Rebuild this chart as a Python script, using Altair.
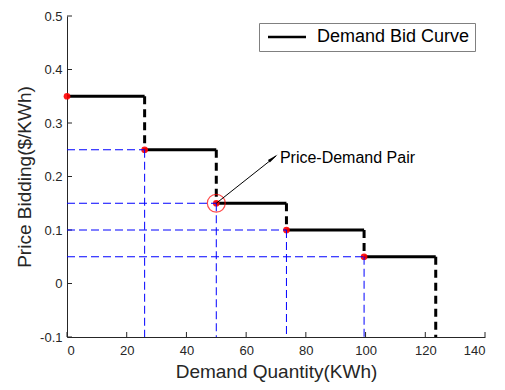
import altair as alt
import pandas as pd

qty = [0, 26, 50, 73.5, 99.5, 123.5]
price = [0.35, 0.25, 0.15, 0.10, 0.05]
y_floor = -0.1
series_name = "Demand Bid Curve"
x_ticks = [0, 20, 40, 60, 80, 100, 120, 140]
y_ticks = [-0.1, 0, 0.1, 0.2, 0.3, 0.4, 0.5]
highlight = (50, 0.15)
annot_text = "Price-Demand Pair"
annot_pos = (71.3, 0.2346)
arrow_tip = (70.0, 0.2383)
head_pos = (68.6, 0.2328)

W, H = 418, 321
FONT = "Liberation Sans"

steps = pd.DataFrame({"x": qty[:-1], "x2": qty[1:], "y": price, "series": series_name})
risers = pd.DataFrame({"x": qty[1:], "y": price, "y2": price[1:] + [y_floor]})
pts = pd.DataFrame({"x": qty[:-1], "y": price})
bh = pd.DataFrame({"x": [0] * 4, "x2": qty[1:5], "y": price[1:5]})
bv = pd.DataFrame({"x": qty[1:5], "y": price[1:5], "y2": [y_floor] * 4})
xt = pd.DataFrame({"x": x_ticks})
yt = pd.DataFrame({"y": y_ticks})
hl = pd.DataFrame({"x": [highlight[0]], "y": [highlight[1]]})
arrow = pd.DataFrame({"x": [highlight[0]], "y": [highlight[1]], "x2": [arrow_tip[0]], "y2": [arrow_tip[1]]})
tip = pd.DataFrame({"x": [head_pos[0]], "y": [head_pos[1]]})
txt = pd.DataFrame({"x": [annot_pos[0]], "y": [annot_pos[1]], "t": [annot_text]})

xs = alt.Scale(domain=[0, 140], nice=False, zero=False)
ys = alt.Scale(domain=[-0.1, 0.5], nice=False, zero=False)

X = alt.X("x:Q", scale=xs, axis=alt.Axis(values=x_ticks, title="Demand Quantity(KWh)", ticks=False,
                                         labelPadding=7, titlePadding=5, grid=False))
Y = alt.Y("y:Q", scale=ys, axis=alt.Axis(values=y_ticks, title="Price Bidding($/KWh)", ticks=False,
                                         labelPadding=5, titlePadding=5, grid=False,
                                         labelExpr="toString(round(datum.value*10)/10)"))

xticks = alt.Chart(xt).mark_rule(color="#262626", strokeWidth=1).encode(
    x=X, y=alt.value(H), y2=alt.value(H - 5))
yticks = alt.Chart(yt).mark_rule(color="#262626", strokeWidth=1).encode(
    y=Y, x=alt.value(0), x2=alt.value(5))

blue_h = alt.Chart(bh).mark_rule(color="#0000ff", strokeWidth=1, strokeDash=[8, 4]).encode(
    x=alt.X("x:Q", scale=xs), x2="x2:Q", y=alt.Y("y:Q", scale=ys))
blue_v = alt.Chart(bv).mark_rule(color="#0000ff", strokeWidth=1, strokeDash=[8, 4]).encode(
    x=alt.X("x:Q", scale=xs), y=alt.Y("y:Q", scale=ys), y2="y2:Q")

step_l = alt.Chart(steps).mark_rule(strokeWidth=3).encode(
    x=alt.X("x:Q", scale=xs), x2="x2:Q", y=alt.Y("y:Q", scale=ys),
    color=alt.Color("series:N", title=None,
                    scale=alt.Scale(domain=[series_name], range=["black"])))
riser_l = alt.Chart(risers).mark_rule(color="black", strokeWidth=3, strokeDash=[8, 5]).encode(
    x=alt.X("x:Q", scale=xs), y=alt.Y("y:Q", scale=ys), y2="y2:Q")

dots = alt.Chart(pts).mark_point(filled=True, color="#ff0000", size=45, opacity=0.9).encode(
    x=alt.X("x:Q", scale=xs), y=alt.Y("y:Q", scale=ys))
circ = alt.Chart(hl).mark_point(filled=False, color="#ff0000", size=320, strokeWidth=1.2).encode(
    x=alt.X("x:Q", scale=xs), y=alt.Y("y:Q", scale=ys))
arr = alt.Chart(arrow).mark_rule(color="black", strokeWidth=1).encode(
    x=alt.X("x:Q", scale=xs), y=alt.Y("y:Q", scale=ys), x2="x2:Q", y2="y2:Q")
head = alt.Chart(tip).mark_point(shape="wedge", filled=True, color="black", size=160, angle=53, opacity=1).encode(
    x=alt.X("x:Q", scale=xs), y=alt.Y("y:Q", scale=ys))
label = alt.Chart(txt).mark_text(align="left", baseline="middle", font=FONT, fontSize=16, color="black").encode(
    x=alt.X("x:Q", scale=xs), y=alt.Y("y:Q", scale=ys), text="t:N")

chart = alt.layer(
    xticks, yticks, step_l, riser_l, dots, blue_h, blue_v, circ, arr, head, label
).properties(
    width=W, height=H,
    autosize=alt.AutoSizeParams(type="none"),
    padding={"left": 59, "top": 8, "right": 12, "bottom": 45},
).configure_view(stroke=None).configure_axis(
    domainColor="#262626", labelColor="#262626", titleColor="#262626",
    labelFont=FONT, titleFont=FONT, labelFontSize=13, titleFontSize=19, titleFontWeight="normal",
).configure_legend(
    orient="none", legendX=192, legendY=7, padding=5, strokeColor="#808080", fillColor="white",
    labelFont=FONT, labelFontSize=18, labelColor="black", symbolType="M-1,0H6.6",
    symbolStrokeWidth=2.5, symbolSize=100, labelOffset=35, cornerRadius=0,
)

chart.save("out.html", embed_options={"renderer": "svg", "actions": False})
